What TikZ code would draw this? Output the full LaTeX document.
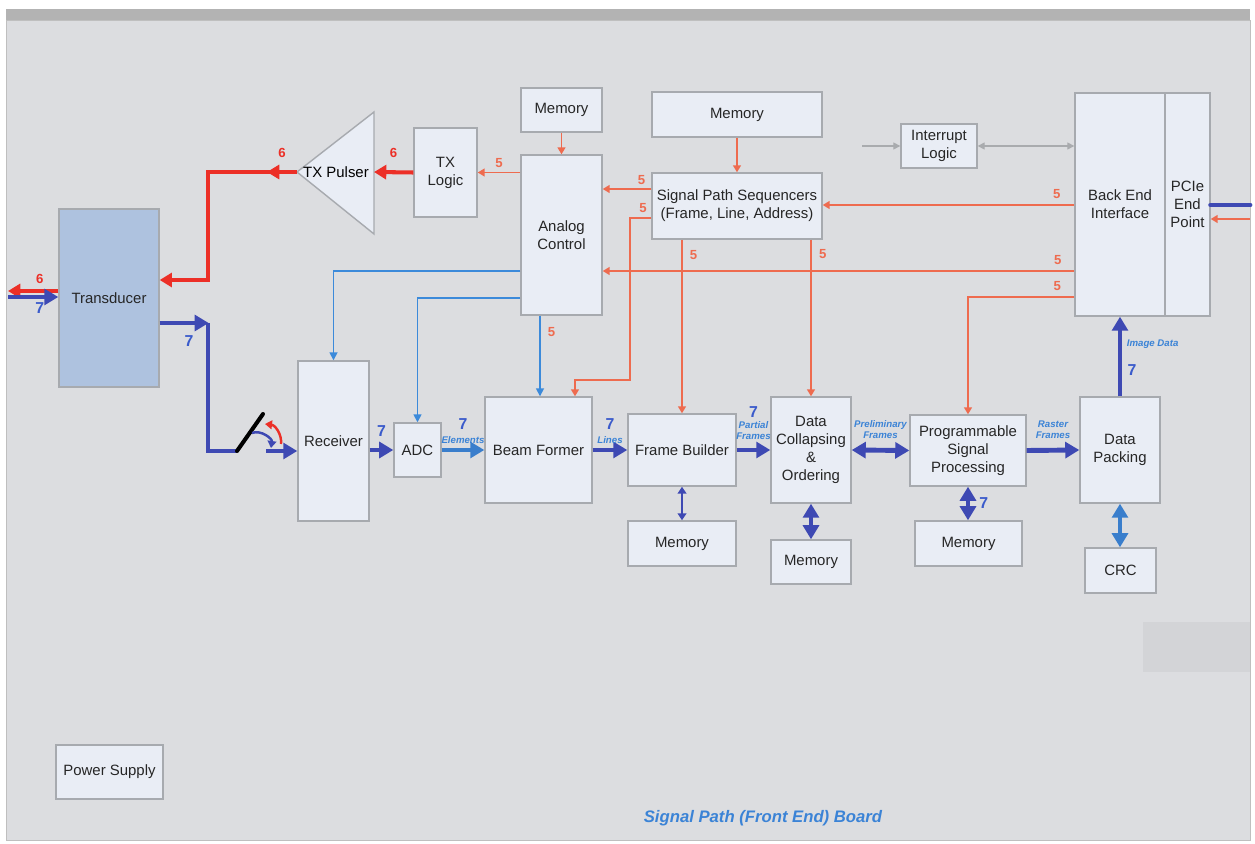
\documentclass[tikz,border=0pt]{standalone}
\usepackage{fontspec}
\setmainfont{Liberation Sans}
\usetikzlibrary{arrows.meta,positioning,calc}

\definecolor{panel}{HTML}{DCDDE0}
\definecolor{band}{HTML}{B3B3B3}
\definecolor{boxfill}{HTML}{E9EDF5}
\definecolor{boxline}{HTML}{A7AAAF}
\definecolor{transfill}{HTML}{AEC2DF}
\definecolor{txred}{HTML}{EC2F27}
\definecolor{ctlred}{HTML}{EE6B4F}
\definecolor{datablue}{HTML}{3E49B3}
\definecolor{midblue}{HTML}{3A7ECC}
\definecolor{ctlblue}{HTML}{3C8ADA}
\definecolor{lblblue}{HTML}{3B83D6}
\definecolor{numblue}{HTML}{3B5BCB}
\definecolor{irqgray}{HTML}{A9ABAE}

\tikzset{
  blk/.style={draw=boxline, fill=boxfill, line width=0.8pt, align=center,
    text=black!85, font=\fontsize{8.5}{10.2}\selectfont, inner sep=1pt},
  txflow/.style={draw=txred, line width=2.3pt, -{Triangle[length=7pt,width=8pt]}},
  dataflow/.style={draw=datablue, line width=2.8pt, -{Triangle[length=8pt,width=9pt]}},
  databoth/.style={dataflow, {Triangle[length=8pt,width=9pt]}-{Triangle[length=8pt,width=9pt]}},
  ctlflow/.style={draw=ctlred, line width=1.1pt, -{Triangle[length=4pt,width=4.5pt]}},
  ctlwire/.style={draw=ctlblue, line width=0.9pt, -{Triangle[length=4.5pt,width=4.5pt]}},
  irqwire/.style={draw=irqgray, line width=0.8pt, -{Triangle[length=4pt,width=4pt]}},
  nfive/.style={text=ctlred, font=\fontsize{7.5}{8}\selectfont\bfseries, inner sep=1pt},
  nsix/.style={text=txred, font=\fontsize{7.5}{8}\selectfont\bfseries, inner sep=1pt},
  nseven/.style={text=numblue, font=\fontsize{9}{9}\selectfont\bfseries, inner sep=1pt},
  flowlbl/.style={text=lblblue, font=\fontsize{5.5}{6.2}\selectfont\bfseries\itshape,
    align=center, inner sep=0.5pt}
}

\begin{document}
\begin{tikzpicture}[x=0.02cm, y=-0.02cm]
\useasboundingbox (0,0) rectangle (1255,844);
\fill[white] (0,0) rectangle (1255,844);
% board panel
\fill[band] (6,9) rectangle (1250,20);
\filldraw[fill=panel, draw=black!25] (6,20) rectangle (1250,840);
\fill[black!4!panel] (1143,622) rectangle (1250,672);

% blocks
\node[blk, fill=transfill, minimum width=2cm, minimum height=3.56cm] (trans) at (109,298) {Transducer};
\draw[boxline, fill=boxfill, line width=0.8pt] (297,172) -- (374,112) -- (374,234) -- cycle;
\node[align=center, font=\fontsize{8.5}{10}\selectfont] (pulser) at (336,172) {TX Pulser};
\coordinate (pulsertip) at (297,172);
\coordinate (pulserbase) at (374,172);
\node[blk, minimum width=1.26cm, minimum height=1.78cm] (txlogic) at (445.5,172.5) {TX\\Logic};
\node[blk, minimum width=1.62cm, minimum height=0.88cm] (memac) at (561.5,110) {Memory};
\node[blk, minimum width=1.62cm, minimum height=3.2cm] (analog) at (561.5,235) {Analog\\Control};
\node[blk, minimum width=3.4cm, minimum height=0.9cm] (memseq) at (737,114.5) {Memory};
\node[blk, minimum width=3.4cm, minimum height=1.32cm] (seq) at (737,206) {Signal Path Sequencers\\(Frame, Line, Address)};
\node[blk, minimum width=1.52cm, minimum height=0.88cm] (intr) at (939,146) {Interrupt\\Logic};
\node[blk, minimum width=1.8cm, minimum height=4.46cm] (bei) at (1120,204.5) {Back End\\Interface};
\node[blk, minimum width=0.9cm, minimum height=4.46cm] (pcie) at (1187.5,204.5) {PCIe\\End\\Point};
\node[blk, minimum width=1.42cm, minimum height=3.2cm] (recv) at (333.5,441) {Receiver};
\node[blk, minimum width=0.94cm, minimum height=1.08cm] (adc) at (417.5,450) {ADC};
\node[blk, minimum width=2.14cm, minimum height=2.12cm] (beam) at (538.5,450) {Beam Former};
\node[blk, minimum width=2.16cm, minimum height=1.44cm] (frame) at (682,450) {Frame Builder};
\node[blk, minimum width=1.6cm, minimum height=2.12cm] (collapse) at (811,450) {Data\\Collapsing\\\&\\Ordering};
\node[blk, minimum width=2.32cm, minimum height=1.42cm] (psp) at (968,450.5) {Programmable\\Signal\\Processing};
\node[blk, minimum width=1.6cm, minimum height=2.12cm] (pack) at (1120,450) {Data\\Packing};
\node[blk, minimum width=2.16cm, minimum height=0.9cm] (memfb) at (682,543.5) {Memory};
\node[blk, minimum width=1.6cm, minimum height=0.88cm] (memdc) at (811,562) {Memory};
\node[blk, minimum width=2.14cm, minimum height=0.9cm] (mempsp) at (968.5,543.5) {Memory};
\node[blk, minimum width=1.42cm, minimum height=0.9cm] (crc) at (1120.5,570.5) {CRC};
\node[blk, minimum width=2.14cm, minimum height=1.08cm] (power) at (109.5,772) {Power Supply};
\node[text=lblblue, font=\fontsize{9.5}{10}\selectfont\bfseries\itshape] (title) at (763,818) {Signal Path (Front End) Board};

% transmit path
\draw[txflow] (txlogic.west) -- (pulserbase) node[midway, above=6pt, nsix] {6};
\draw[txflow] (pulsertip) -- ++(-30,0) node[pos=0.5, above=6pt, nsix] {6};
\draw[txflow] (pulsertip) -- (208,172) |- (trans.east |- 0,280);
\coordinate (leftedge) at (8,291);
\draw[txflow] (trans.west |- leftedge) -- (leftedge) node[pos=0.37, above=2pt, nsix] {6};

% receive path
\draw[dataflow] (leftedge |- 0,297) -- (trans.west |- 0,297) node[pos=0.63, below=1pt, nseven] {7};
\coordinate (swA) at (237,451);
\coordinate (swB) at (263,414);
\draw[dataflow] (trans.east |- 0,323) -- ++(49,0) node[pos=0.6, below=5pt, nseven] {7};
\draw[datablue, line width=2.8pt] (208,323) |- (swA);
\draw[black, line width=2.3pt, line cap=round] (swA) -- (swB);
\draw[datablue, line width=1.4pt, -{Triangle[length=4pt,width=5pt]}] (252,433) to[bend left=60] (271,448);
\draw[txred, line width=1.4pt, -{Triangle[length=4pt,width=5pt]}] (281,444) to[bend right=45] (265,424);
\draw[dataflow] (266,451) -- (recv.west |- 0,451);
\draw[dataflow] (adc.west -| recv.east) -- (adc.west) node[midway, above=5pt, nseven] {7};
\draw[dataflow, draw=midblue] (adc.east) -- (beam.west)
  node[midway, above=2pt, flowlbl] {Elements} node[midway, above=9pt, nseven] {7};
\draw[dataflow] (beam.east) -- (frame.west)
  node[midway, above=2pt, flowlbl] {Lines} node[midway, above=9pt, nseven] {7};
\draw[dataflow] (frame.east) -- (collapse.west)
  node[midway, above=4pt, flowlbl] {Partial\\Frames} node[midway, above=16pt, nseven] {7};
\draw[databoth] (collapse.east) -- (psp.west)
  node[midway, above=5pt, flowlbl] {Preliminary\\Frames};
\draw[dataflow] (psp.east) -- (pack.west)
  node[midway, above=5pt, flowlbl] {Raster\\Frames};
\draw[dataflow] (pack.north) -- (bei.south -| pack.north)
  node[pos=0.66, right=2pt, flowlbl] {Image Data} node[pos=0.33, right=2pt, nseven] {7};
\draw[datablue, line width=2.8pt, line cap=round] (pcie.east |- 0,205) -- (1250,205);
\draw[ctlflow] (1250,219) -- (pcie.east |- 0,219);

% memories
\draw[datablue, line width=1.2pt, {Triangle[length=4pt,width=5pt]}-{Triangle[length=4pt,width=5pt]}] (frame.south) -- (memfb.north);
\draw[databoth] (collapse.south) -- (memdc.north);
\draw[databoth] (psp.south) -- (mempsp.north -| psp.south) node[midway, right=4pt, nseven] {7};
\draw[databoth, draw=midblue] (pack.south) -- (crc.north -| pack.south);

% control lines
\draw[ctlflow] (memac) -- (analog);
\draw[ctlflow] (memseq) -- (seq);
\draw[ctlflow] (analog.west |- txlogic.east) -- (txlogic.east) node[midway, above=1pt, nfive] {5};
\draw[ctlflow] (seq.west |- 0,189) -- (analog.east |- 0,189) node[pos=0.2, above=1pt, nfive] {5};
\draw[ctlflow] (seq.west |- 0,218) -| (630,380) -| (beam.north -| 575,0);
\node[nfive] (five3) at (643,208) {5};
\draw[ctlflow] (bei.west |- 0,205) -- (seq.east |- 0,205) node[pos=0.07, above=2pt, nfive] {5};
\draw[ctlflow] (bei.west |- 0,271) -- (analog.east |- 0,271) node[pos=0.035, above=2pt, nfive] {5};
\draw[ctlflow] (seq.south -| frame.north) -- (frame.north) node[pos=0.09, right=3pt, nfive] {5};
\draw[ctlflow] (seq.south -| collapse.north) -- (collapse.north) node[pos=0.09, right=3pt, nfive] {5};
\draw[ctlflow] (bei.west |- 0,297) -| (psp.north) node[pos=0.08, above=2pt, nfive] {5};
\draw[ctlwire] (analog.west |- 0,271) -| (recv.north);
\draw[ctlwire] (analog.west |- 0,298) -| (adc.north);
\draw[ctlwire] (analog.south -| 540,0) -- (beam.north -| 540,0) node[pos=0.2, right=3pt, nfive] {5};
\draw[irqwire] (862,146) -- (intr.west);
\draw[irqwire, {Triangle[length=4pt,width=4pt]}-{Triangle[length=4pt,width=4pt]}] (intr.east) -- (bei.west |- intr.east);
\end{tikzpicture}
\end{document}
